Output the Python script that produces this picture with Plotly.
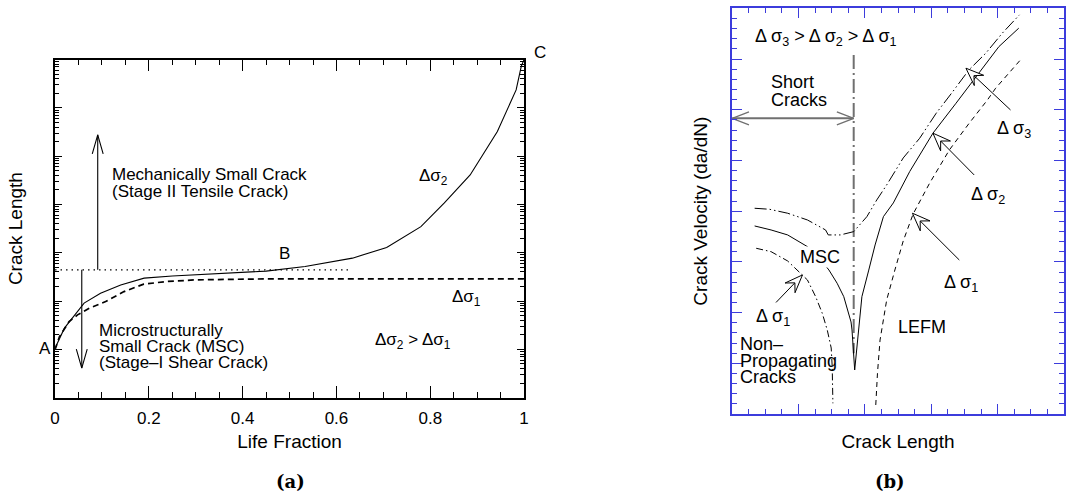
import numpy as np
import plotly.graph_objects as go

W, H = 1070, 494
FONT = "Liberation Sans, Arial, sans-serif"
BLUE = "rgb(60,60,220)"

# ---------------- Panel (a): crack length vs life fraction ----------------
life_frac_s2 = [0, 0.02, 0.062, 0.097, 0.14, 0.19, 0.25, 0.38, 0.45, 0.533,
                0.634, 0.707, 0.78, 0.83, 0.885, 0.943, 0.983, 0.994, 1.0]
crack_len_s2 = [1.06, 2.75, 9.1, 14.5, 21.6, 29.8, 33.1, 37.8, 41.7, 51.8,
                77.3, 129, 347, 1072, 4074, 32360, 234400, 724400, 1000000]
life_frac_s1 = [0, 0.0095, 0.03, 0.048, 0.073, 0.108, 0.147, 0.189, 0.238, 0.3, 0.45, 1.0]
crack_len_s1 = [0.98, 1.84, 3.76, 5.18, 7.13, 9.77, 15.7, 22.4, 25.4, 27.5, 28.8, 28.8]
transition_x = [0, 0.63]
transition_len = [44.3, 44.3]
up_arrow_x = [0.091, 0.091]
up_arrow_y = [44.3, 27540]
down_arrow_x = [0.057, 0.057]
down_arrow_y = [44.3, 0.41]

# ---------------- Panel (b): crack velocity vs crack length ----------------
b_s3_x = [0.0678, 0.1125, 0.1672, 0.2269, 0.2815, 0.2896, 0.3263, 0.3663, 0.406, 0.4358,
          0.4657, 0.5155, 0.5651, 0.6149, 0.6648, 0.7134, 0.7642, 0.814, 0.8657]
b_s3_y = [4.057, 4.037, 3.959, 3.826, 3.629, 3.531, 3.531, 3.596, 3.892, 4.221,
          4.517, 5.049, 5.438, 5.931, 6.357, 6.785, 7.114, 7.509, 7.87]
b_s2_x = [0.0678, 0.1173, 0.1672, 0.2021, 0.2269, 0.2597, 0.2916, 0.3164, 0.3364, 0.3582,
          0.3612, 0.3693, 0.3761, 0.391, 0.411, 0.4307, 0.4558, 0.4857, 0.5352, 0.6051,
          0.6746, 0.7343, 0.8039, 0.8636]
b_s2_y = [3.708, 3.629, 3.531, 3.398, 3.3, 3.097, 2.84, 2.578, 2.314, 1.815,
          1.657, 0.868, 1.361, 2.314, 2.821, 3.333, 3.892, 4.162, 4.783, 5.537,
          6.128, 6.653, 7.245, 7.608]
b_s1_msc_x = [0.0725, 0.1173, 0.1672, 0.2069, 0.2269, 0.2516, 0.2716, 0.2866, 0.2985, 0.3015, 0.3036]
b_s1_msc_y = [3.268, 3.201, 3.018, 2.775, 2.643, 2.314, 1.986, 1.657, 1.302, 0.933, 0.211]
b_s1_lefm_x = [0.4328, 0.4379, 0.4457, 0.4657, 0.4904, 0.5155, 0.5454, 0.5949, 0.6546,
               0.7143, 0.7693, 0.794, 0.8687]
b_s1_lefm_y = [0.178, 0.803, 1.46, 2.249, 2.84, 3.412, 3.945, 4.55, 5.207,
               5.734, 6.193, 6.424, 6.982]
short_limit_x = [0.3663, 0.3663]
short_limit_y = [7.08, 1.2]
short_arrow_x = [0.0, 0.3663]
short_arrow_y = [5.83, 5.83]
# pointer arrows: (tail x, tail y, tip x, tip y)
b_pointers = [
    (0.8388, 5.996, 0.7045, 6.819),   # delta sigma 3
    (0.7293, 4.714, 0.6051, 5.537),   # delta sigma 2
    (0.6845, 3.037, 0.5433, 3.959),   # delta sigma 1 (LEFM)
    (0.1322, 2.199, 0.2119, 2.742),   # delta sigma 1 (MSC)
]

# ---------------- layout geometry (pixels) ----------------
A_L, A_R, A_T, A_B = 50.5, 524.0, 59.5, 397.7
B_L, B_R, B_T, B_B = 734.0, 1069.0, 8.3, 414.0
A_YMIN, A_YMAX = -1, 6
B_YMAX = 8


def a_to_px(x, y):
    return A_L + x * (A_R - A_L), A_B - (np.log10(y) - A_YMIN) / (A_YMAX - A_YMIN) * (A_B - A_T)


def a_from_px(px, py):
    return (px - A_L) / (A_R - A_L), 10 ** ((A_B - py) / (A_B - A_T) * (A_YMAX - A_YMIN) + A_YMIN)


def b_to_px(x, y):
    return B_L + x * (B_R - B_L), B_B - y / B_YMAX * (B_B - B_T)


def b_from_px(px, py):
    return (px - B_L) / (B_R - B_L), (B_B - py) / (B_B - B_T) * B_YMAX


def head_points(tail, tip, length, half, notch=None):
    t = np.array(tail, float)
    h = np.array(tip, float)
    u = (h - t) / np.linalg.norm(h - t)
    n = np.array([-u[1], u[0]])
    w1 = h - length * u + half * n
    w2 = h - length * u - half * n
    if notch is None:
        return [w1, h, w2]
    nb = h - notch * u
    return [h, w1, nb, w2, h], nb


fig = go.Figure()

# panel (a) lines
fig.add_trace(go.Scatter(x=life_frac_s2, y=crack_len_s2, mode="lines",
                         line=dict(color="black", width=1.1), xaxis="x", yaxis="y"))
fig.add_trace(go.Scatter(x=life_frac_s1, y=crack_len_s1, mode="lines",
                         line=dict(color="black", width=1.7, dash="6px,4px"), xaxis="x", yaxis="y"))
fig.add_trace(go.Scatter(x=transition_x, y=transition_len, mode="lines",
                         line=dict(color="black", width=1.1, dash="1.5px,4px"), xaxis="x", yaxis="y"))
for ax_, ay_ in ((up_arrow_x, up_arrow_y), (down_arrow_x, down_arrow_y)):
    fig.add_trace(go.Scatter(x=ax_, y=ay_, mode="lines", line=dict(color="black", width=1.1),
                             xaxis="x", yaxis="y"))
    tail = a_to_px(ax_[0], ay_[0])
    tip = a_to_px(ax_[1], ay_[1])
    pts = head_points(tail, tip, 19, 5.5)
    hx, hy = zip(*[a_from_px(p[0], p[1]) for p in pts])
    fig.add_trace(go.Scatter(x=list(hx), y=list(hy), mode="lines",
                             line=dict(color="black", width=1.1), xaxis="x", yaxis="y"))

# panel (b) lines
fig.add_trace(go.Scatter(x=short_limit_x, y=short_limit_y, mode="lines",
                         line=dict(color="#707070", width=2, dash="14px,4px,2px,4px"), xaxis="x2", yaxis="y2"))
fig.add_trace(go.Scatter(x=short_arrow_x, y=short_arrow_y, mode="lines",
                         line=dict(color="#707070", width=2), xaxis="x2", yaxis="y2"))
p0 = b_to_px(short_arrow_x[0], short_arrow_y[0])
p1 = b_to_px(short_arrow_x[1], short_arrow_y[1])
for tail, tip in ((p1, p0), (p0, p1)):
    pts = head_points(tail, tip, 17, 6.5)
    hx, hy = zip(*[b_from_px(p[0], p[1]) for p in pts])
    fig.add_trace(go.Scatter(x=list(hx), y=list(hy), mode="lines",
                             line=dict(color="#707070", width=1.3), xaxis="x2", yaxis="y2"))

fig.add_trace(go.Scatter(x=b_s3_x, y=b_s3_y, mode="lines",
                         line=dict(color="black", width=1, dash="12px,3px,1.5px,3px,1.5px,3px"),
                         xaxis="x2", yaxis="y2"))
fig.add_trace(go.Scatter(x=b_s2_x, y=b_s2_y, mode="lines",
                         line=dict(color="black", width=1), xaxis="x2", yaxis="y2"))
fig.add_trace(go.Scatter(x=b_s1_msc_x, y=b_s1_msc_y, mode="lines",
                         line=dict(color="black", width=1, dash="7px,3px,1.5px,3px"),
                         xaxis="x2", yaxis="y2"))
fig.add_trace(go.Scatter(x=b_s1_lefm_x, y=b_s1_lefm_y, mode="lines",
                         line=dict(color="black", width=1, dash="5px,4px"), xaxis="x2", yaxis="y2"))

for tx, ty, hx_, hy_ in b_pointers:
    tail = b_to_px(tx, ty)
    tip = b_to_px(hx_, hy_)
    poly, nb = head_points(tail, tip, 18, 7, notch=11)
    sx, sy = zip(*[b_from_px(tail[0], tail[1]), b_from_px(nb[0], nb[1])])
    fig.add_trace(go.Scatter(x=list(sx), y=list(sy), mode="lines",
                             line=dict(color="black", width=1), xaxis="x2", yaxis="y2"))
    px_, py_ = zip(*[b_from_px(p[0], p[1]) for p in poly])
    fig.add_trace(go.Scatter(x=list(px_), y=list(py_), mode="lines", fill="toself",
                             fillcolor="white", line=dict(color="black", width=1),
                             xaxis="x2", yaxis="y2"))

# ---------------- annotations (placed in paper space) ----------------
annotations = []


def ann(text, px, py, xanchor="left", size=17, family=FONT, bg=None):
    d = dict(text=text, x=px / W, y=1 - py / H, xref="paper", yref="paper", xanchor=xanchor,
             yanchor="middle", showarrow=False, borderpad=0,
             font=dict(size=size, family=family, color="black"))
    if bg:
        d["bgcolor"] = bg
    annotations.append(d)


# panel (a) labels
ann("Mechanically Small Crack", 107, 175)
ann("(Stage II Tensile Crack)", 107, 191)
ann("Δσ<sub>2</sub>", 417, 177)
ann("B", 282, 254, xanchor="center")
ann("Δσ<sub>1</sub>", 450, 298)
ann("Δσ<sub>2</sub> > Δσ<sub>1</sub>", 372.6, 341)
ann("Microstructurally", 93.5, 330)
ann("Small Crack (MSC)", 93.5, 346.5)
ann("(Stage–I Shear Crack)", 93.5, 362.5)
ann("A", 47, 348, xanchor="right")
ann("C", 540, 53, xanchor="center")

# panel (b) labels
ann("Δ σ<sub>3</sub> > Δ σ<sub>2</sub> > Δ σ<sub>1</sub>", 755.7, 38, size=18)
ann("Short", 772.3, 81.7, size=18)
ann("Cracks", 772.3, 100, size=18)
ann("Δ σ<sub>3</sub>", 1000.7, 130, size=18)
ann("Δ σ<sub>2</sub>", 974, 195, size=18)
ann("Δ σ<sub>1</sub>", 947, 283, size=18)
ann("Δ σ<sub>1</sub>", 757, 317, size=18)
ann("MSC", 822.5, 256.7, xanchor="center", size=18, bg="white")
ann("LEFM", 900.7, 326.7, size=18)
ann("Non–", 740.7, 344, size=18)
ann("Propagating", 740.7, 360.5, size=18)
ann("Cracks", 740.7, 377, size=18)

ann("<b>(a)</b>", 288, 481, xanchor="center", size=18, family="DejaVu Serif, serif")
ann("<b>(b)</b>", 893, 481, xanchor="center", size=18, family="DejaVu Serif, serif")

axis_common = dict(showgrid=False, zeroline=False, showline=True, mirror="ticks", ticks="inside")

fig.update_layout(
    width=W, height=H, margin=dict(l=0, r=0, t=0, b=0),
    paper_bgcolor="white", plot_bgcolor="white", showlegend=False,
    font=dict(family=FONT, color="black", size=17),
    xaxis=dict(domain=[A_L / W, A_R / W], range=[0, 1], dtick=0.2, tick0=0,
               linecolor="black", linewidth=1.5, tickcolor="black", ticklen=12, tickwidth=1,
               tickfont=dict(size=17, family=FONT), ticklabelstandoff=4,
               minor=dict(ticks="inside", ticklen=6, dtick=0.05, tickcolor="black", tickwidth=1),
               title=dict(text="Life Fraction", font=dict(size=19, family=FONT), standoff=8),
               anchor="y", **axis_common),
    yaxis=dict(domain=[1 - A_B / H, 1 - A_T / H], type="log", range=[A_YMIN, A_YMAX], dtick=1,
               linecolor="black", linewidth=1.5, tickcolor="black", ticklen=7, tickwidth=1,
               showticklabels=False,
               minor=dict(ticks="inside", ticklen=4, dtick="D1", tickcolor="black", tickwidth=1),
               title=dict(text="Crack Length", font=dict(size=19, family=FONT), standoff=26),
               anchor="x", **axis_common),
    xaxis2=dict(domain=[B_L / W, B_R / W], range=[0, 1], dtick=0.2, tick0=0,
                linecolor=BLUE, linewidth=1.5, tickcolor=BLUE, ticklen=10, tickwidth=1.2,
                showticklabels=False,
                minor=dict(ticks="inside", ticklen=5, dtick=0.05, tickcolor=BLUE, tickwidth=1.2),
                title=dict(text="Crack Length", font=dict(size=19, family=FONT), standoff=20),
                anchor="y2", **axis_common),
    yaxis2=dict(domain=[1 - B_B / H, 1 - B_T / H], range=[0, B_YMAX], dtick=1, tick0=0,
                linecolor=BLUE, linewidth=1.5, tickcolor=BLUE, ticklen=10, tickwidth=1.2,
                showticklabels=False,
                minor=dict(ticks="inside", ticklen=5, dtick=0.2, tickcolor=BLUE, tickwidth=1.2),
                title=dict(text="Crack Velocity (da/dN)", font=dict(size=19, family=FONT), standoff=18),
                anchor="x2", **axis_common),
    annotations=annotations,
)

fig.write_html("out.html")
